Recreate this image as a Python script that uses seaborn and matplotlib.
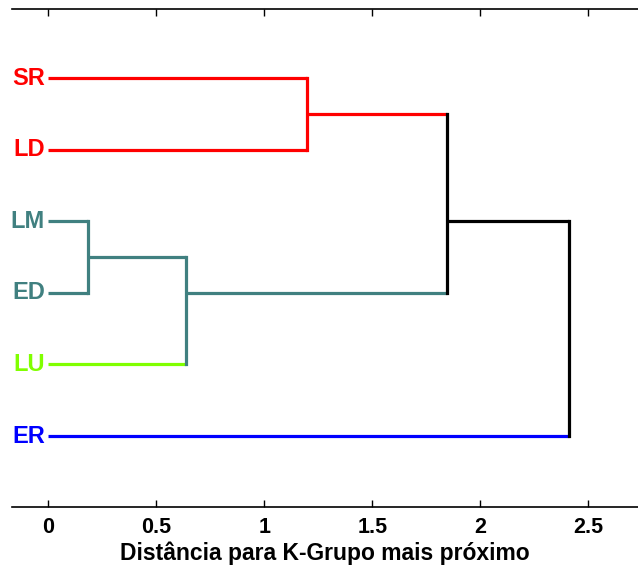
import matplotlib
matplotlib.use("Agg")
import matplotlib.pyplot as plt
import seaborn as sns

# ---- data ----
leaf_labels = ["SR", "LD", "LM", "ED", "LU", "ER"]
leaf_colors = ["#ff0000", "#ff0000", "#408080", "#408080", "#80ff00", "#0000ff"]
# merges: (left node, right node, height, colour); nodes >= 6 are earlier merges
merge_left = [0, 2, 7, 6, 9]
merge_right = [1, 3, 4, 8, 5]
merge_height = [1.20, 0.185, 0.64, 1.845, 2.41]
merge_colors = ["#ff0000", "#408080", "#408080", "#000000", "#000000"]
xticks = [0, 0.5, 1, 1.5, 2, 2.5]
xtick_labels = ["0", "0.5", "1", "1.5", "2", "2.5"]
xlabel = "Distância para K-Grupo mais próximo"

sns.set_style("ticks")
plt.rcParams["font.family"] = ["Liberation Sans", "DejaVu Sans"]
plt.rcParams["font.weight"] = "bold"
plt.rcParams["text.color"] = "black"
plt.rcParams["axes.labelcolor"] = "black"
plt.rcParams["xtick.color"] = "black"
plt.rcParams["axes.edgecolor"] = "black"

fig = plt.figure(figsize=(6.38, 5.67), dpi=100)
ax = fig.add_axes([12 / 638, 1 - 507 / 567, 1 - 12 / 638, (507 - 9) / 567])

# node positions (cluster position = mean of its leaf positions)
n = len(leaf_labels)
node_leaves = {i: [i + 1] for i in range(n)}
node_x = {i: 0.0 for i in range(n)}
node_c = {i: leaf_colors[i] for i in range(n)}


def ypos(node):
    return sum(node_leaves[node]) / len(node_leaves[node])


lw = 2.3
for k, (a, b, h, c) in enumerate(zip(merge_left, merge_right, merge_height, merge_colors)):
    nid = n + k
    for child in (a, b):
        sns.lineplot(x=[node_x[child], h], y=[ypos(child), ypos(child)],
                     color=node_c[child], lw=lw, ax=ax, solid_capstyle="butt")
    sns.lineplot(x=[h, h], y=[ypos(a), ypos(b)], color=c, lw=lw, ax=ax,
                 orient="y", solid_capstyle="projecting")
    node_leaves[nid] = node_leaves[a] + node_leaves[b]
    node_x[nid] = h
    node_c[nid] = c

for i, (lab, col) in enumerate(zip(leaf_labels, leaf_colors)):
    ax.text(-0.015, ypos(i), lab, color=col, fontsize=17, fontweight="bold",
            ha="right", va="center")

ax.set_xlim(-0.167, 2.73)
ax.set_ylim(6.99, 0.036)
ax.set_xticks(xticks)
ax.set_xticklabels(xtick_labels, fontsize=15.5, fontweight="bold")
ax.set_yticks([])
ax.tick_params(axis="x", direction="in", top=True, length=5, width=1, pad=7)
for s in ["left", "right"]:
    ax.spines[s].set_visible(False)
for s in ["top", "bottom"]:
    ax.spines[s].set_linewidth(1.2)
ax.set_xlabel(xlabel, fontsize=16.5, fontweight="bold", labelpad=3)
ax.set_ylabel("")

fig.savefig("out.png", dpi=100)
